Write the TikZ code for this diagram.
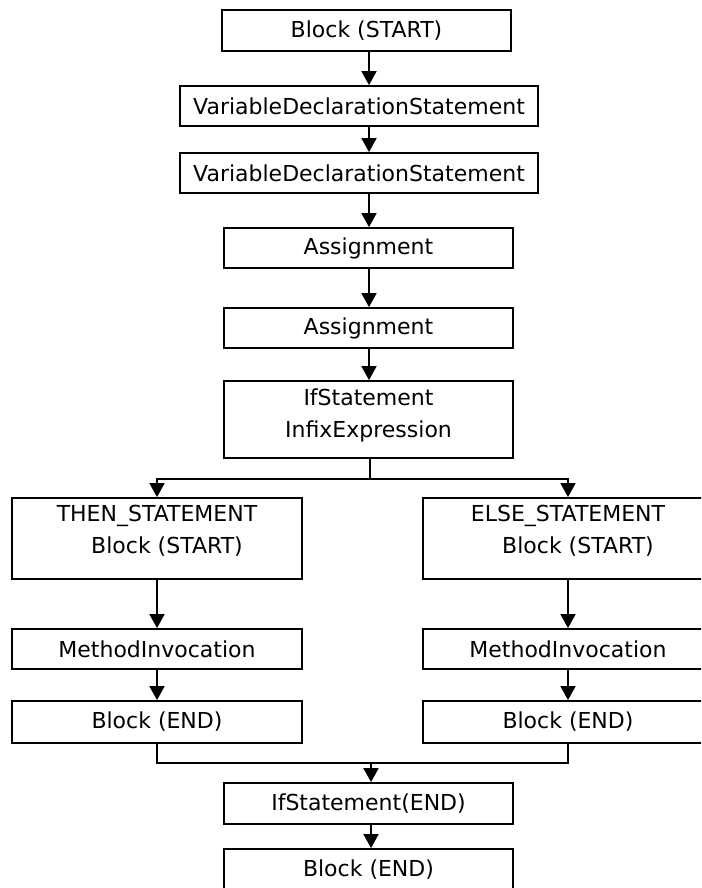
\documentclass[tikz,border=0pt]{standalone}
\usepackage{fontspec}
\setmainfont{DejaVu Sans}
\usetikzlibrary{arrows.meta}
\begin{document}
\begin{tikzpicture}[x=1pt,y=-1pt,
  txt/.style={font=\fontsize{22}{32}\selectfont},
  box/.style={draw=black, line width=1.8pt, rectangle, inner sep=0pt, txt},
  lbl/.style={inner sep=0pt, align=center, txt},
  link/.style={draw=black, line width=1.8pt},
  arr/.style={link, -{Triangle[length=14pt,width=15pt]}}]
\clip (0,0) rectangle (701,888);
\fill[white] (0,0) rectangle (701,888);

% column of the main sequence
\coordinate (spine) at (369,0);

% main sequence
\node[box, minimum width=289pt, minimum height=41pt] (bstart) at (366.5,30.5) {Block (START)};
\node[box, minimum width=358pt, minimum height=40pt] (vds1) at (359,106) {VariableDeclarationStatement};
\node[box, minimum width=358pt, minimum height=40pt] (vds2) at (359,173) {VariableDeclarationStatement};
\node[box, minimum width=289pt, minimum height=40pt] (asg1) at (368.5,248) {Assignment};
\node[box, minimum width=289pt, minimum height=40pt] (asg2) at (368.5,328) {Assignment};
\node[box, minimum width=289pt, minimum height=77pt] (ifst) at (368.5,419.5) {};
\node[lbl] (ifstl) at ([yshift=4pt]ifst.center) {IfStatement\\InfixExpression};

% then branch
\node[box, minimum width=290pt, minimum height=81pt] (then) at (157,538.5) {};
\node[lbl] (thenl) at ([yshift=8pt]then.center) {THEN\_STATEMENT\\\hspace*{20pt}Block (START)};
\node[box, minimum width=290pt, minimum height=40pt] (mil) at (157,649) {MethodInvocation};
\node[box, minimum width=290pt, minimum height=42pt] (bel) at (157,722) {Block (END)};

% else branch
\node[box, minimum width=290pt, minimum height=81pt] (else) at (568,538.5) {};
\node[lbl] (elsel) at ([yshift=8pt]else.center) {ELSE\_STATEMENT\\\hspace*{20pt}Block (START)};
\node[box, minimum width=290pt, minimum height=40pt] (mir) at (568,649) {MethodInvocation};
\node[box, minimum width=290pt, minimum height=42pt] (ber) at (568,722) {Block (END)};

% tail
\node[box, minimum width=289pt, minimum height=41pt] (ifend) at (368.5,803.5) {IfStatement(END)};
\node[box, minimum width=289pt, minimum height=41pt] (bend) at (368.5,869.5) {Block (END)};

% connectors of the main sequence
\draw[arr] (bstart.south -| spine) -- (vds1.north -| spine);
\draw[arr] (vds1.south -| spine) -- (vds2.north -| spine);
\draw[arr] (vds2.south -| spine) -- (asg1.north -| spine);
\draw[arr] (asg1.south -| spine) -- (asg2.north -| spine);
\draw[arr] (asg2.south -| spine) -- (ifst.north -| spine);

% split into the two branches
\coordinate (split) at (370,479);
\draw[arr] (ifst.south -| split) -- (split) -| (then.north);
\draw[arr] (ifst.south -| split) -- (split) -| (else.north);

\draw[arr] (then) -- (mil);
\draw[arr] (mil) -- (bel);
\draw[arr] (else) -- (mir);
\draw[arr] (mir) -- (ber);

% join after the branches
\coordinate (join) at (371,763);
\draw[link] (bel.south) |- (join);
\draw[link] (ber.south) |- (join);
\draw[arr] (join) -- (ifend.north -| join);
\draw[arr] (ifend.south -| join) -- (bend.north -| join);
\end{tikzpicture}
\end{document}
